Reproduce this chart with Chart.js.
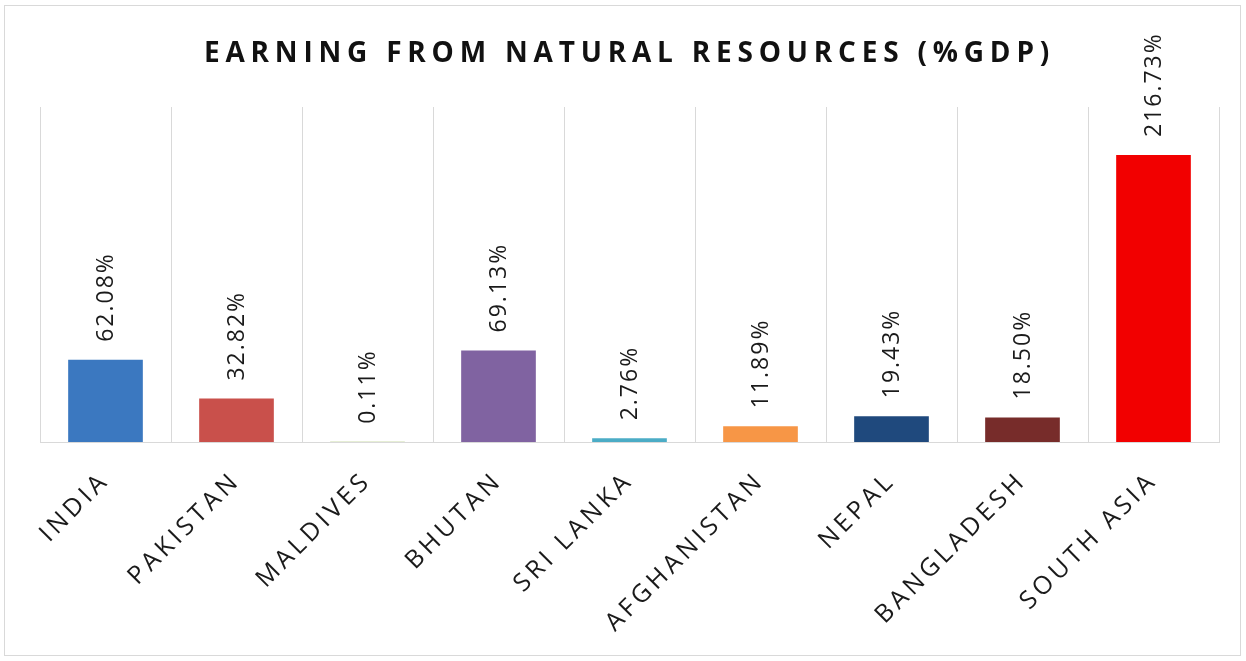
<!DOCTYPE html>
<html>
<head>
<meta charset="utf-8">
<script src="https://cdn.jsdelivr.net/npm/chart.js@4"></script>
<style>
  html, body { margin: 0; padding: 0; background: #ffffff; }
  #wrap { position: absolute; left: 0; top: 0; width: 1246px; height: 661px; }
</style>
</head>
<body>
<div id="wrap"><canvas id="c" width="1246" height="661"></canvas></div>
<script>
const categories = ["INDIA", "PAKISTAN", "MALDIVES", "BHUTAN", "SRI LANKA", "AFGHANISTAN", "NEPAL", "BANGLADESH", "SOUTH ASIA"];
const values = [62.08, 32.82, 0.11, 69.13, 2.76, 11.89, 19.43, 18.50, 216.73];
const valueLabels = ["62.08%", "32.82%", "0.11%", "69.13%", "2.76%", "11.89%", "19.43%", "18.50%", "216.73%"];
const barColors = ["#3b78c0", "#c9504b", "#9bbb59", "#8063a1", "#4bacc6", "#f79646", "#1f497d", "#772c2a", "#f20000"];
const chartTitle = "EARNING FROM NATURAL RESOURCES (%GDP)";

const FONT = "'Open Sans', 'DejaVu Sans', sans-serif";
const TITLE_SPACING = '5.8px';
const TICK_SPACING = '4px';
const LABEL_SPACING = '2px';

const spacingPlugin = {
  id: 'spacing',
  beforeLayout(chart) { chart.ctx.letterSpacing = TICK_SPACING; },
  beforeDraw(chart) {
    const ctx = chart.ctx;
    ctx.save();
    ctx.fillStyle = '#ffffff';
    ctx.fillRect(0, 0, chart.width, chart.height);
    ctx.strokeStyle = '#d9d9d9';
    ctx.lineWidth = 1;
    ctx.strokeRect(4.5, 5.5, 1236, 650);
    ctx.restore();
    ctx.letterSpacing = TITLE_SPACING;
  }
};

const labelPlugin = {
  id: 'barLabels',
  afterDatasetsDraw(chart) {
    const ctx = chart.ctx;
    const meta = chart.getDatasetMeta(0);
    ctx.save();
    ctx.letterSpacing = LABEL_SPACING;
    ctx.font = "23px " + FONT;
    ctx.fillStyle = '#1a1a1a';
    ctx.textAlign = 'left';
    ctx.textBaseline = 'middle';
    meta.data.forEach((el, i) => {
      ctx.save();
      ctx.translate(el.x + 1, el.y - 18);
      ctx.rotate(-Math.PI / 2);
      ctx.fillText(valueLabels[i], 0, 0);
      ctx.restore();
    });
    ctx.restore();
    ctx.letterSpacing = TICK_SPACING;
  }
};

new Chart(document.getElementById('c'), {
  type: 'bar',
  data: {
    labels: categories,
    datasets: [{
      data: values,
      backgroundColor: barColors,
      borderWidth: 0,
      barPercentage: 0.57,
      categoryPercentage: 1.0
    }]
  },
  options: {
    responsive: false,
    animation: false,
    events: [],
    layout: { padding: { left: 40, right: 27, top: 0, bottom: 19 } },
    plugins: {
      legend: { display: false },
      tooltip: { enabled: false },
      title: {
        display: true,
        text: chartTitle,
        color: '#111111',
        font: { family: FONT, size: 28, weight: 'bold', lineHeight: 1.2 },
        padding: { top: 37, bottom: 36.4 }
      }
    },
    scales: {
      x: {
        offset: true,
        grid: { display: true, offset: true, color: '#d9d9d9', lineWidth: 1, drawTicks: false },
        border: { display: true, color: '#d9d9d9', width: 1 },
        ticks: {
          z: 1,
          color: '#1a1a1a',
          font: { family: FONT, size: 25 },
          maxRotation: 45, minRotation: 45,
          padding: 24,
          autoSkip: false
        },
        afterFit(scale) { scale.height = 200; }
      },
      y: {
        display: false,
        min: 0,
        max: 253
      }
    }
  },
  plugins: [spacingPlugin, labelPlugin]
});
</script>
</body>
</html>
